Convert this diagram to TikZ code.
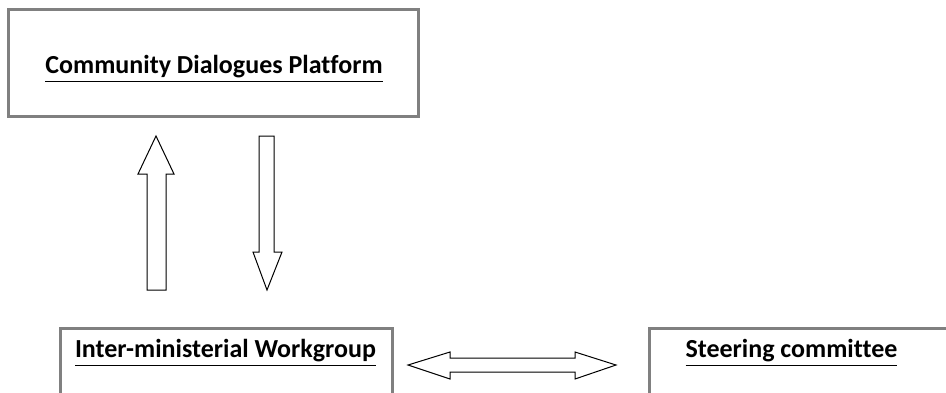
\documentclass[tikz,border=0pt]{standalone}
\usepackage{fontspec}
\setmainfont[Ligatures=NoCommon]{Carlito}
\usetikzlibrary{positioning}

\tikzset{
  box/.style={draw=black!50,line width=1.4pt,fill=white,inner sep=0pt},
  boxtext/.style={font=\fontsize{13}{15}\selectfont\bfseries,inner sep=0pt},
  blockarrow/.style={draw=black,line width=0.5pt,fill=white,line join=miter}
}

\begin{document}
\begin{tikzpicture}[x=0.5pt,y=0.5pt]
  \useasboundingbox (0,0) rectangle (946,-392);
  % boxes
  \node[box,anchor=north west,minimum width=205pt,minimum height=53.5pt] (cdp) at (7,-8) {};
  \node[box,anchor=north west,minimum width=166pt,minimum height=50pt] (iwg) at (59,-327) {};
  \node[box,anchor=north west,minimum width=165pt,minimum height=50pt] (sc) at (648,-327) {};
  % labels
  \node[boxtext] (cdptext) at (214,-69) {\underline{Community Dialogues Platform}};
  \node[boxtext] (iwgtext) at (225.5,-353) {\underline{Inter-ministerial Workgroup}};
  \node[boxtext] (sctext) at (791.5,-353) {\underline{Steering committee}};
  % block arrows
  \draw[blockarrow] (147,-290) -- (147,-174) -- (138,-174) -- (156,-136)
    -- (174,-174) -- (166,-174) -- (166,-290) -- cycle;
  \draw[blockarrow] (259,-136) -- (274,-136) -- (274,-252) -- (282,-252)
    -- (267,-290) -- (253,-252) -- (259,-252) -- cycle;
  \draw[blockarrow] (408,-365) -- (450,-352) -- (450,-358) -- (575,-358)
    -- (575,-352) -- (616,-365) -- (575,-379) -- (575,-372) -- (450,-372)
    -- (450,-379) -- cycle;
\end{tikzpicture}
\end{document}
